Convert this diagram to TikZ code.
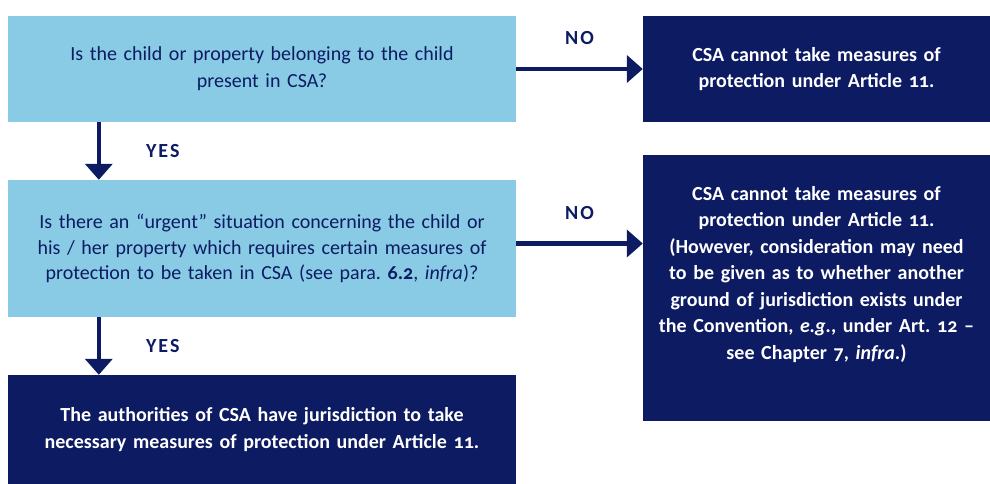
\documentclass[tikz,border=0pt]{standalone}
\usepackage{fontspec}
\setmainfont{Carlito}[Numbers=OldStyle]
\usetikzlibrary{arrows.meta,positioning,calc}

\definecolor{skyfill}{HTML}{89CBE5}
\definecolor{navyfill}{HTML}{0C1B62}
\frenchspacing

\begin{document}
\begin{tikzpicture}[
		x=1pt, y=-1pt,
		question/.style={fill=skyfill, text=navyfill, minimum width=508pt, minimum height=106pt, text width=460pt, align=center, inner sep=0pt, font=\fontsize{20}{27}\selectfont},
		answer/.style={fill=navyfill, text=white, inner sep=0pt, align=center, font=\bfseries\fontsize{20}{26.5}\selectfont},
		choice/.style={font=\bfseries\fontsize{20}{22}\selectfont\addfontfeatures{LetterSpace=10}, text=navyfill, inner sep=0pt},
		> = {Triangle[length=16pt,width=27pt]},
		flow/.style={->, navyfill, line width=4.5pt}
		]
		\useasboundingbox (0,0) rectangle (990,484);
		\node[question] at (262,69) (q1) {Is the child or property belonging to the child\\ present in CSA?};
		\node[answer, minimum width=347pt, minimum height=106pt, text width=320pt] at (816.5,69) (n1) {CSA cannot take measures of\\ protection under Article 11.};
		\node[question, minimum height=137pt, font=\fontsize{20}{25.5}\selectfont] at (262,248.5) (q2) {Is there an “urgent” situation concerning the child or\\ his / her property which requires certain measures of\\ protection to be taken in CSA (see para. \textbf{6.2}, \emph{infra})?};
		\node[answer, minimum width=347pt, minimum height=266pt, text width=330pt] at (816.5,288) (n2) {CSA cannot take measures of\\ protection under Article 11.\\ (However, consideration may need\\ to be given as to whether another\\ ground of jurisdiction exists under\\ the Convention, \emph{e.g.}, under Art. 12 --\\ see Chapter 7, \emph{infra}.)\\[4pt]\mbox{}};
		\node[answer, minimum width=508pt, minimum height=109pt, text width=480pt] at (262,429.5) (yes) {The authorities of CSA have jurisdiction to take\\ necessary measures of protection under Article 11.};

		% the answers
		\coordinate (d1) at ($(q1.south west)!0.179!(q1.south east)$);
		\coordinate (d2) at ($(q2.south west)!0.179!(q2.south east)$);
		\path[flow] (q1) edge node[choice, above=22pt] {NO} (n1)
		([yshift=5pt]q2.east) edge node[choice, above=22pt] {NO} ([yshift=5pt]q2.east -| n2.west)
		(d1) edge node[choice, right=45pt] {YES} (d1 |- q2.north)
		(d2) edge node[choice, right=45pt] {YES} (d2 |- yes.north);
	\end{tikzpicture}
\end{document}
